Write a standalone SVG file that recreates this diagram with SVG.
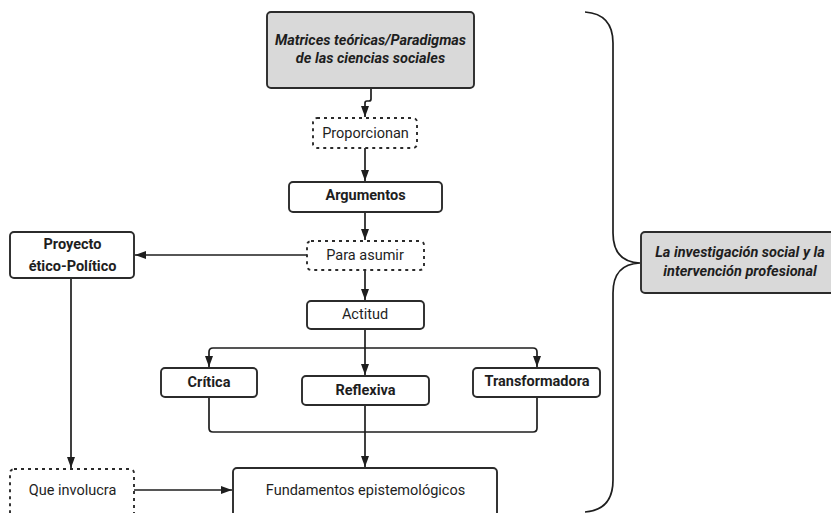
<svg xmlns="http://www.w3.org/2000/svg" width="831" height="513" viewBox="0 0 831 513">
<style>
.box{fill:#fff;stroke:#2b2b2b;stroke-width:1.9}
.gray{fill:#d9d9d9;stroke:#2b2b2b;stroke-width:1.9}
.dash{fill:#fff;stroke:#2b2b2b;stroke-width:1.9;stroke-dasharray:3 4}
.t{font-family:Roboto,"Liberation Sans",sans-serif;font-size:14.5px;fill:#1e1e1e;text-anchor:middle}
.b{font-weight:bold}
.bi{font-weight:bold;font-style:italic}
.ln{fill:none;stroke:#1e1e1e;stroke-width:1.7}
.arr{fill:none;stroke:#1e1e1e;stroke-width:1.7;marker-end:url(#ah)}
</style>
<defs>
<marker id="ah" markerUnits="userSpaceOnUse" markerWidth="12" markerHeight="12" viewBox="0 0 12 12" refX="11" refY="6" orient="auto">
<path d="M0,2 L11,6 L0,10 Z" fill="#1e1e1e"/>
</marker>
</defs>
<rect width="831" height="513" fill="#fff"/>
<g id="connectors">
<path class="arr" d="M371,88 V99 Q371,101 369,101 H367 Q365,101 365,103 V117"/>
<path class="arr" d="M365,148 V181"/>
<path class="arr" d="M365,212 V240"/>
<path class="arr" d="M307,255 H135"/>
<path class="arr" d="M365,270 V300"/>
<path class="ln" d="M365,329 V348"/>
<path class="arr" d="M365,348 H213 Q209,348 209,352 V367"/>
<path class="arr" d="M365,348 H533 Q537,348 537,352 V367"/>
<path class="arr" d="M365,348 V375"/>
<path class="ln" d="M209,397 V428 Q209,432 213,432 H533 Q537,432 537,428 V397"/>
<path class="ln" d="M365,405 V432"/>
<path class="arr" d="M365,432 V467"/>
<path class="arr" d="M71,278 V468"/>
<path class="arr" d="M134,490 H232"/>
<path class="ln" stroke-width="2" d="M585,12 Q613,14 613,43 V233 Q613,262 640,263 Q613,264 613,293 V480 Q613,510 585,512"/>
</g>
<g id="matrices">
<rect class="gray" x="267" y="12" width="207" height="76" rx="4"/>
<text class="t bi" x="370.5" y="44.5">Matrices teóricas/Paradigmas</text>
<text class="t bi" x="370.5" y="62.5">de las ciencias sociales</text>
</g>
<g id="proporcionan">
<rect class="dash" x="313" y="118" width="104" height="30" rx="4"/>
<text class="t" x="365.5" y="137.5">Proporcionan</text>
</g>
<g id="argumentos">
<rect class="box" x="289" y="182" width="153" height="30" rx="4"/>
<text class="t b" x="365.5" y="200">Argumentos</text>
</g>
<g id="para-asumir">
<rect class="dash" x="307" y="241" width="117" height="29" rx="4"/>
<text class="t" x="365" y="259.5">Para asumir</text>
</g>
<g id="proyecto">
<rect class="box" x="10" y="232" width="124" height="46" rx="4"/>
<text class="t b" x="72.5" y="249">Proyecto</text>
<text class="t b" x="72.5" y="271">ético-Político</text>
</g>
<g id="actitud">
<rect class="box" x="307" y="301" width="117" height="28" rx="4"/>
<text class="t" x="365" y="318.5">Actitud</text>
</g>
<g id="critica">
<rect class="box" x="161" y="368" width="96" height="29" rx="4"/>
<text class="t b" x="209" y="386.5">Crítica</text>
</g>
<g id="reflexiva">
<rect class="box" x="302" y="376" width="127" height="29" rx="4"/>
<text class="t b" x="365.5" y="395">Reflexiva</text>
</g>
<g id="transformadora">
<rect class="box" x="473" y="368" width="127" height="29" rx="4"/>
<text class="t b" x="537" y="386">Transformadora</text>
</g>
<g id="fundamentos">
<rect class="box" x="233" y="468" width="264" height="50" rx="4"/>
<text class="t" x="365.5" y="495">Fundamentos epistemológicos</text>
</g>
<g id="que-involucra">
<rect class="dash" x="10" y="469" width="124" height="50" rx="4"/>
<text class="t" x="72.5" y="494.5">Que involucra</text>
</g>
<g id="investigacion">
<rect class="gray" x="641" y="232" width="200" height="61" rx="4"/>
<text class="t bi" x="740" y="257">La investigación social y la</text>
<text class="t bi" x="740" y="276">intervención profesional</text>
</g>
</svg>
